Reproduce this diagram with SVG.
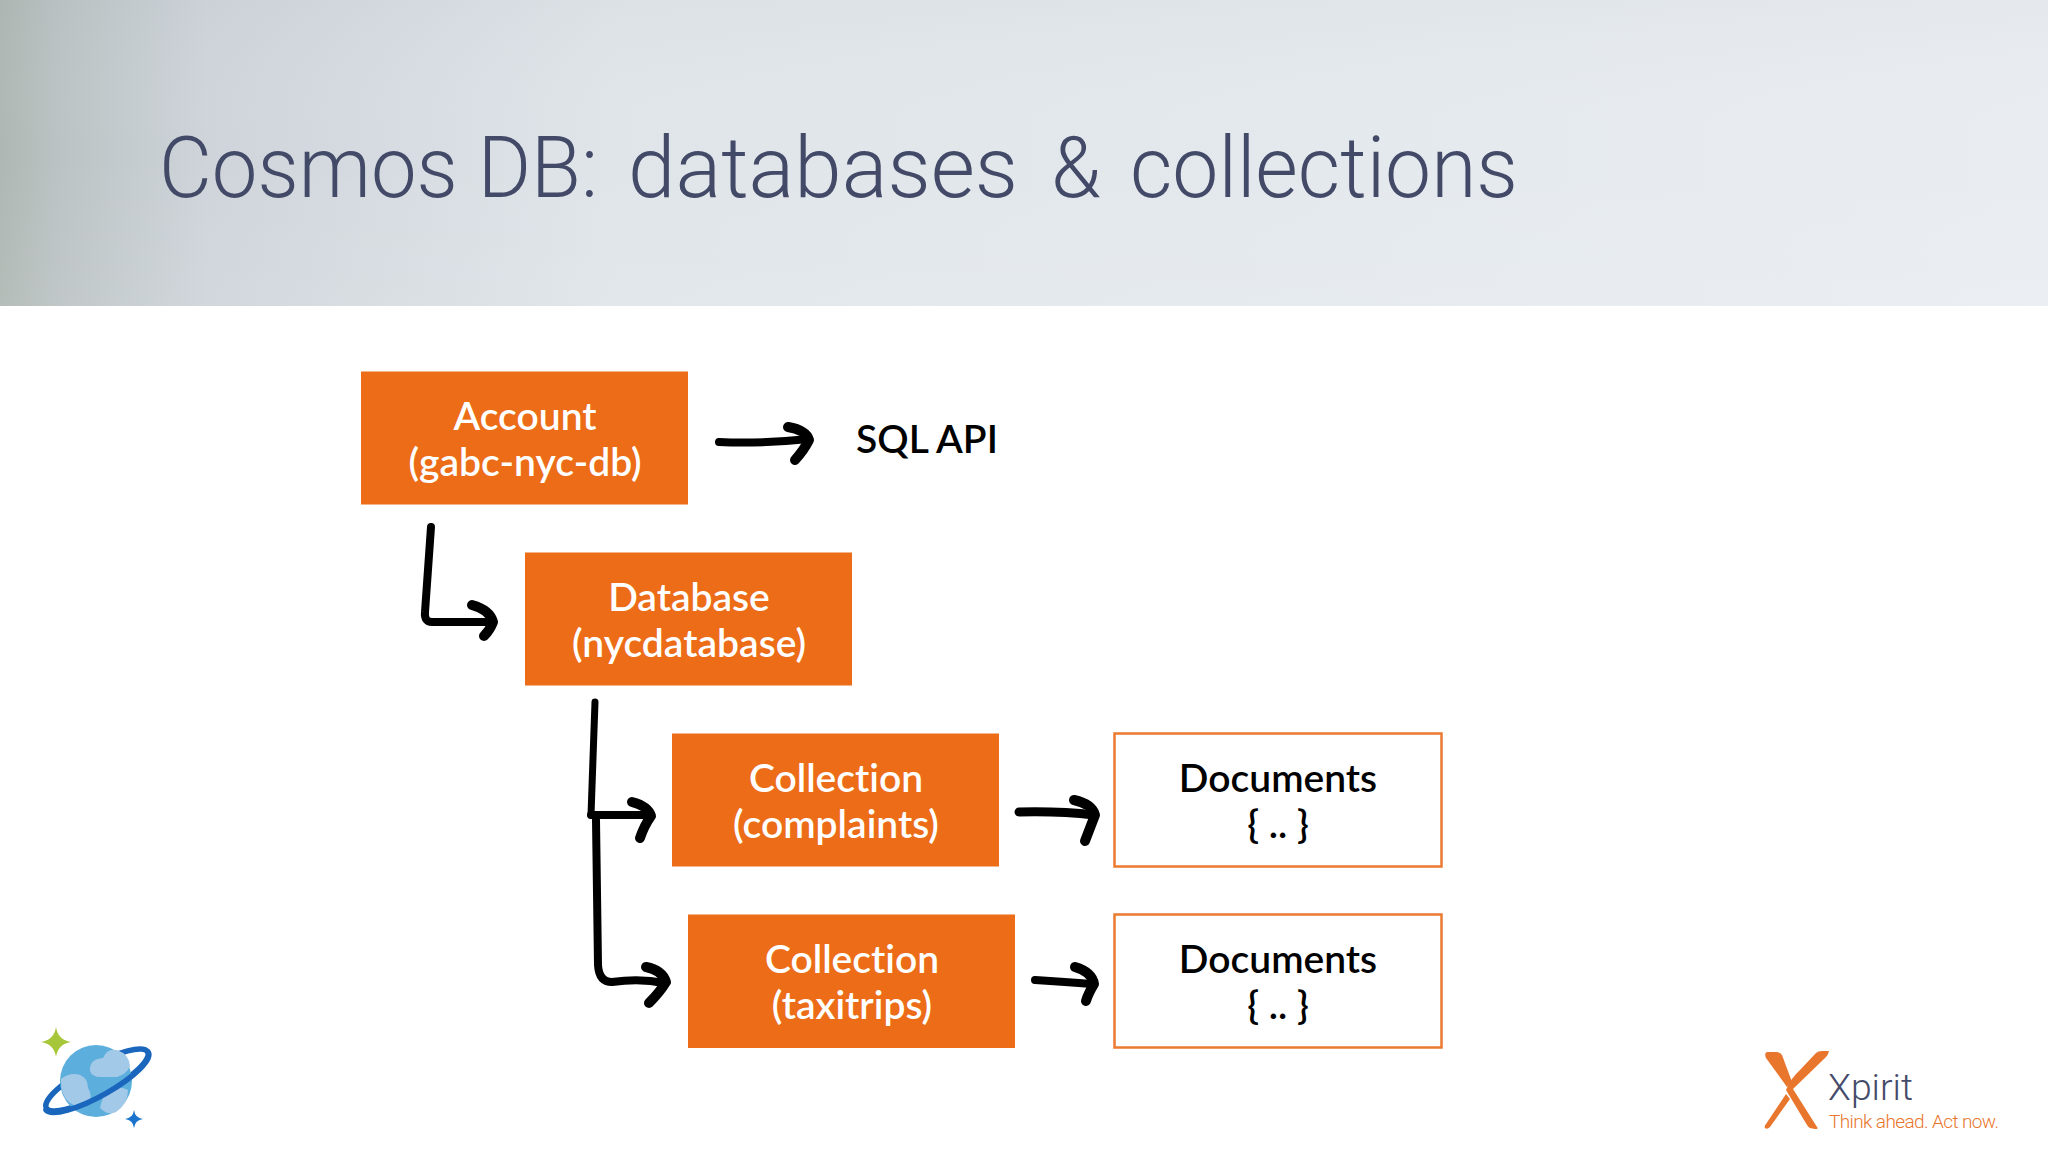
<svg xmlns="http://www.w3.org/2000/svg" width="2048" height="1152" viewBox="0 0 2048 1152">
<style>
.box{fill:#ec6c18}
.doc{fill:#fff;stroke:#ec7a30;stroke-width:2.5}
.t{font-family:"Lato","Liberation Sans",sans-serif;font-size:39px;font-weight:600;text-anchor:middle;font-variant-ligatures:none}
.w{fill:#fff}
.k{fill:#000}
.c{fill:none;stroke:#000;stroke-width:8;stroke-linecap:round;stroke-linejoin:round}
.h{stroke-width:10}
</style>
<defs>
<linearGradient id="hg" x1="0" y1="0" x2="1" y2="0">
<stop offset="0" stop-color="#aeb7b3"/>
<stop offset="0.03" stop-color="#bcc3c4"/>
<stop offset="0.1" stop-color="#ced4da"/>
<stop offset="0.3" stop-color="#dfe5e9"/>
<stop offset="0.65" stop-color="#e4e9ee"/>
<stop offset="1" stop-color="#e9edf2"/>
</linearGradient>
<linearGradient id="hv" x1="0" y1="0" x2="0" y2="1">
<stop offset="0" stop-color="#9ca3a8" stop-opacity="0.06"/>
<stop offset="0.5" stop-color="#fff" stop-opacity="0"/>
<stop offset="1" stop-color="#fff" stop-opacity="0.08"/>
</linearGradient>
</defs>
<rect width="2048" height="1152" fill="#fff"/>
<g id="header">
<rect width="2048" height="306" fill="url(#hg)"/>
<rect width="2048" height="306" fill="url(#hv)"/>
<text y="197" font-family="Roboto,'Liberation Sans',sans-serif" font-weight="300" font-size="86" fill="#434a68" lengthAdjust="spacingAndGlyphs"><tspan x="159" textLength="439" lengthAdjust="spacingAndGlyphs">Cosmos DB:</tspan> <tspan x="628" textLength="390" lengthAdjust="spacingAndGlyphs">databases</tspan> <tspan x="1051" textLength="50" lengthAdjust="spacingAndGlyphs">&amp;</tspan> <tspan x="1130" textLength="388" lengthAdjust="spacingAndGlyphs">collections</tspan></text>
</g>
<g id="connectors">
<path class="c" d="M719 442Q760 444 809 439"/>
<path class="c h" d="M788 427Q806 430 809 440Q804 450 795 460"/>
<path class="c" d="M431 527L425 612Q424 622 432 622L490 622"/>
<path class="c h" d="M472 605Q490 610 493 622Q490 630 484 636"/>
<path class="c" style="stroke-width:7" d="M595 702L591 815"/>
<path class="c" d="M596 820L598 965Q599 982 612 982Q640 978 664 983"/>
<path class="c" d="M591 815L650 815"/>
<path class="c h" d="M632 802Q648 806 651 816Q644 826 640 838"/>
<path class="c h" d="M646 967Q662 970 666 982Q660 992 649 1003"/>
<path class="c" style="stroke-width:9" d="M1019 812Q1060 811 1094 815"/>
<path class="c h" d="M1074 800Q1092 804 1095 815Q1090 828 1085 841"/>
<path class="c" d="M1035 980Q1066 982 1092 984"/>
<path class="c h" d="M1075 967Q1092 972 1094 984Q1088 994 1086 1001"/>
</g>
<g id="account"><rect class="box" x="361" y="371.5" width="327" height="133"/>
<text class="t w" x="525" y="430">Account</text><text class="t w" x="525" y="476">(gabc-nyc-db)</text></g>
<g id="sql-api"><text class="t k" x="927" y="453">SQL API</text></g>
<g id="database"><rect class="box" x="525" y="552.5" width="327" height="133"/>
<text class="t w" x="689" y="611">Database</text><text class="t w" x="689" y="657">(nycdatabase)</text></g>
<g id="collection-complaints"><rect class="box" x="672" y="733.5" width="327" height="133"/>
<text class="t w" x="836" y="792">Collection</text><text class="t w" x="836" y="838">(complaints)</text></g>
<g id="collection-taxitrips"><rect class="box" x="688" y="914.5" width="327" height="133.5"/>
<text class="t w" x="852" y="973">Collection</text><text class="t w" x="852" y="1019">(taxitrips)</text></g>
<g id="documents-1"><rect class="doc" x="1114.5" y="733.5" width="327" height="133"/>
<text class="t k" x="1278" y="792">Documents</text><text class="t k" x="1278" y="838">{ .. }</text></g>
<g id="documents-2"><rect class="doc" x="1114.5" y="914.5" width="327" height="133"/>
<text class="t k" x="1278" y="973">Documents</text><text class="t k" x="1278" y="1019">{ .. }</text></g>
<g id="cosmos-logo">
<ellipse cx="97" cy="1080" rx="58" ry="15" transform="rotate(-29 97 1080)" fill="none" stroke="#1a66bd" stroke-width="5.5"/>
<circle cx="96" cy="1081" r="36" fill="#5cafdc"/>
<path d="M90 1071Q89 1059 103 1058Q107 1048 117 1050Q129 1054 130 1066Q127 1074 117 1077L101 1077Q92 1077 90 1071Z" fill="#a3c9e8"/>
<path d="M61 1079Q70 1072 80 1075Q88 1078 88 1088Q92 1094 90 1103Q80 1110 70 1103Q60 1095 61 1079Z" fill="#a3c9e8"/>
<path d="M100 1108Q104 1090 112 1088Q120 1086 128 1090Q128 1104 116 1112Q108 1116 100 1108Z" fill="#a3c9e8"/>
<path d="M46 1110A58 15 -29 0 0 148 1052" fill="none" stroke="#1a66bd" stroke-width="5.5" stroke-linecap="round"/>
<path d="M56 1027Q58 1040 71 1042Q58 1044 56 1057Q54 1044 41 1042Q54 1040 56 1027Z" fill="#a8c63a"/>
<path d="M134 1110Q135 1118 143 1119Q135 1120 134 1128Q133 1120 125 1119Q133 1118 134 1110Z" fill="#1a74cc"/>
</g>
<g id="xpirit-logo">
<path d="M1767 1052L1776 1052Q1780 1052 1782 1055L1792 1082L1787 1087L1766 1058Q1764 1053 1767 1052Z" fill="#e8762d"/>
<path d="M1822 1051L1829 1051Q1828 1055 1826 1057L1793 1089L1817 1127Q1819 1129 1815 1129L1810 1128Q1808 1127 1807 1125L1786 1090Q1791 1078 1800 1070L1816 1053Q1818 1051 1822 1051Z" fill="#e8762d"/>
<path d="M1786 1094L1790 1099L1770 1127Q1767 1130 1765 1128Q1764 1126 1766 1124Z" fill="#e8762d"/>
<text x="1828" y="1100" font-family="Roboto,'Liberation Sans',sans-serif" font-weight="300" font-size="36" fill="#454b6b" textLength="85" lengthAdjust="spacingAndGlyphs">Xpirit</text>
<text x="1829" y="1128" font-family="Roboto,'Liberation Sans',sans-serif" font-weight="300" font-size="19" fill="#e8762d" textLength="170" lengthAdjust="spacing">Think ahead. Act now.</text>
</g>
</svg>
